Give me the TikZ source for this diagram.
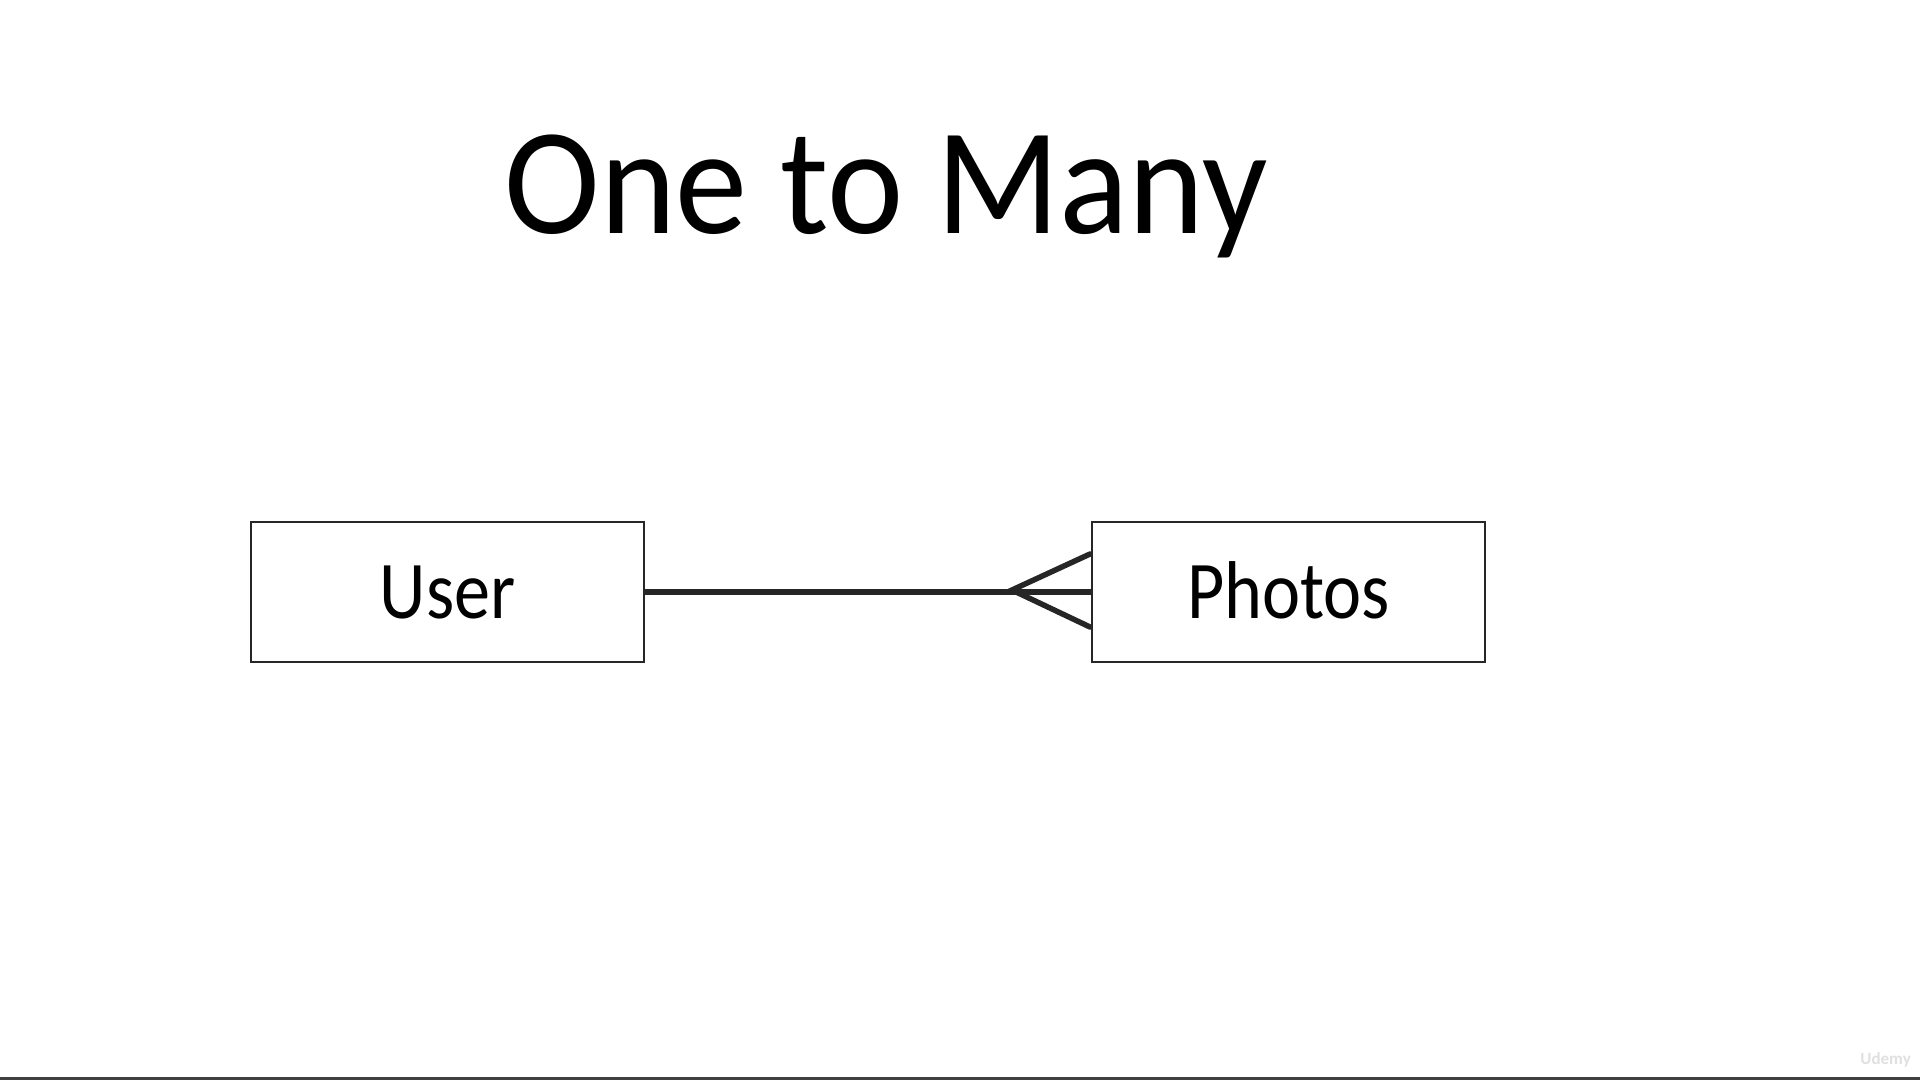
\documentclass[tikz,border=0pt]{standalone}
\usepackage{fontspec}
\setmainfont{Carlito}
\newfontfamily\titlefont{Carlito}[FakeStretch=0.95]
\newfontfamily\labelfont{Carlito}[FakeStretch=0.88]
\begin{document}
\begin{tikzpicture}[x=1pt,y=-1pt,
  entity/.style={draw=black!85, line width=2.6pt, minimum width=393pt, minimum height=140pt, inner sep=0pt, fill=white},
  lbl/.style={anchor=base, inner sep=0pt, font=\labelfont\fontsize{82}{90}\selectfont},
  rel/.style={draw=black!85, line width=5.5pt},
  foot/.style={draw=black!85, line width=5.5pt, line cap=round}]
\useasboundingbox (0,0) rectangle (1920,1080);
\fill[white] (0,0) rectangle (1920,1080);
\node[anchor=base, inner sep=0pt, font=\titlefont\fontsize{152}{160}\selectfont] (title) at (886,233) {One to Many};
\node[entity] (user) at (447.5,592) {};
\node[entity] (photos) at (1288.5,592) {};
\node[lbl] (userl) at (447.5,618) {User};
\node[lbl] (photosl) at (1288.5,618) {Photos};
\draw[rel] (user.east) -- (photos.west);
\coordinate (apex) at (1012,590);
\coordinate (up) at (1090,554);
\coordinate (dn) at (1090,627);
\draw[foot] (up) -- (apex) -- (dn);
\coordinate (bl) at (0,1078.5);
\coordinate (br) at (1920,1078.5);
\draw[black!75, line width=3pt] (bl) -- (br);
\node[anchor=base east, inner sep=0pt, text=black!12, font=\fontsize{17}{18}\selectfont\bfseries] (wm) at (1911,1064) {Udemy};
\end{tikzpicture}
\end{document}
